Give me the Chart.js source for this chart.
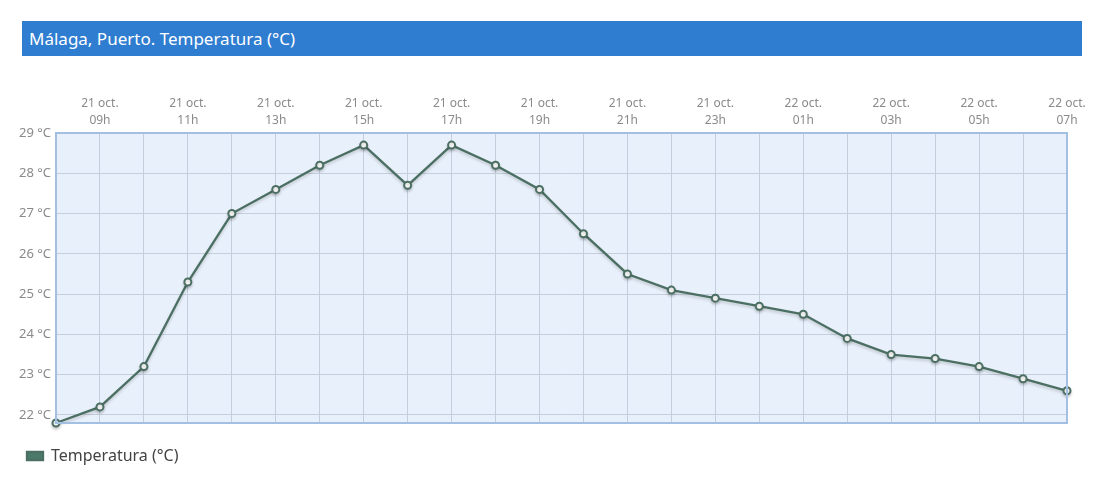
<!DOCTYPE html>
<html>
<head>
<meta charset="utf-8">
<script src="https://cdn.jsdelivr.net/npm/chart.js@4.4.0/dist/chart.umd.min.js"></script>
<style>
  body { margin: 0; background: #fff; font-family: "Noto Sans", sans-serif; }
  #wrap { position: relative; width: 1100px; height: 504px; }
  #titleBar {
    position: absolute; left: 22px; top: 21px; width: 1060px; height: 35px;
    background: #2f7dd1; color: #fff; font-size: 17px; line-height: 35px;
    padding-left: 7px; box-sizing: border-box;
  }
  canvas { position: absolute; left: 0; top: 0; }
</style>
</head>
<body>
<div id="wrap">
  <div id="titleBar">Málaga, Puerto. Temperatura (°C)</div>
  <canvas id="tempChart" width="1100" height="504"></canvas>
</div>
<script>
// Hourly readings, 21 oct 08h -> 22 oct 07h
const days = ["21 oct.", "21 oct.", "21 oct.", "21 oct.", "21 oct.", "21 oct.", "21 oct.", "21 oct.",
  "21 oct.", "21 oct.", "21 oct.", "21 oct.", "21 oct.", "21 oct.", "21 oct.", "21 oct.",
  "22 oct.", "22 oct.", "22 oct.", "22 oct.", "22 oct.", "22 oct.", "22 oct.", "22 oct."];
const hours = ["08h", "09h", "10h", "11h", "12h", "13h", "14h", "15h", "16h", "17h", "18h", "19h",
  "20h", "21h", "22h", "23h", "00h", "01h", "02h", "03h", "04h", "05h", "06h", "07h"];
const temps = [21.8, 22.2, 23.2, 25.3, 27.0, 27.6, 28.2, 28.7, 27.7, 28.7, 28.2, 27.6,
  26.5, 25.5, 25.1, 24.9, 24.7, 24.5, 23.9, 23.5, 23.4, 23.2, 22.9, 22.6];
const yTicks = [22, 23, 24, 25, 26, 27, 28, 29];
const yMin = 21.8, yMax = 29;

const labels = hours.map((h, i) => [days[i], h]);

// plot background + frame
const areaPlugin = {
  id: "areaBg",
  beforeDraw(chart) {
    const { ctx, chartArea: a } = chart;
    ctx.save();
    ctx.fillStyle = "#e8f0fb";
    ctx.fillRect(a.left, a.top, a.right - a.left, a.bottom - a.top);
    ctx.restore();
  },
  afterDraw(chart) {
    const { ctx, chartArea: a } = chart;
    ctx.save();
    ctx.strokeStyle = "#a3c0e2";
    ctx.lineWidth = 2;
    ctx.strokeRect(a.left, a.top, a.right - a.left, a.bottom - a.top);
    ctx.restore();
  }
};

// soft shadow under the line
const shadowPlugin = {
  id: "lineShadow",
  beforeDatasetsDraw(chart) {
    const ctx = chart.ctx;
    ctx.save();
    ctx.shadowColor = "rgba(0,0,0,0.18)";
    ctx.shadowBlur = 3;
    ctx.shadowOffsetY = 2;
  },
  afterDatasetsDraw(chart) {
    chart.ctx.restore();
  }
};

const tickColor = "#8a8a8a";

new Chart(document.getElementById("tempChart"), {
  type: "line",
  data: {
    labels,
    datasets: [{
      label: "Temperatura (°C)",
      data: temps,
      borderColor: "#4b6f62",
      backgroundColor: "#4b7a6a",
      borderWidth: 2.3,
      pointRadius: 3.5,
      pointBorderWidth: 2,
      pointBackgroundColor: "#ffffff",
      pointBorderColor: "#4b6f62",
      tension: 0,
      clip: false
    }]
  },
  options: {
    responsive: false,
    animation: false,
    layout: { padding: { top: 88, left: 2, right: 33, bottom: 30 } },
    plugins: {
      legend: {
        position: "bottom",
        align: "start",
        labels: {
          boxWidth: 16, boxHeight: 8, padding: 25,
          color: "#444", font: { family: "Noto Sans", size: 16 }
        }
      },
      tooltip: { enabled: false }
    },
    scales: {
      x: {
        position: "top",
        offset: false,
        grid: { color: "#c4cedc", lineWidth: 1, drawTicks: false },
        border: { display: false },
        ticks: {
          autoSkip: false, maxRotation: 0, padding: 4,
          color: tickColor, font: { family: "Noto Sans", size: 12, lineHeight: 1.4 },
          callback: (v, i) => (i % 2 === 1 ? labels[i] : "")
        },
        afterFit: s => { s.height = 45; }
      },
      y: {
        min: yMin, max: yMax,
        grid: { color: "#c4cedc", lineWidth: 1, drawTicks: false },
        border: { display: false },
        afterBuildTicks: s => {
          s.ticks = yTicks.map(v => ({ value: v }));
        },
        ticks: {
          padding: 5, color: tickColor, font: { family: "Noto Sans", size: 13 },
          callback: v => v + " °C"
        },
        afterFit: s => { s.width = 54; }
      }
    }
  },
  plugins: [areaPlugin, shadowPlugin]
});
</script>
</body>
</html>
